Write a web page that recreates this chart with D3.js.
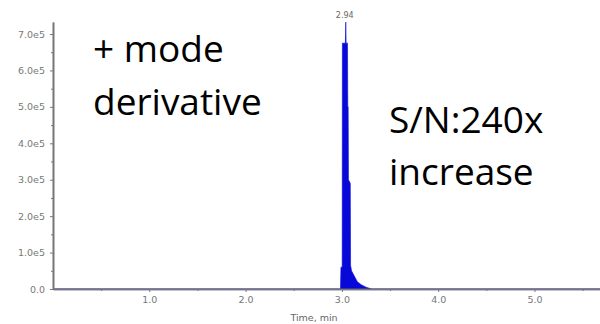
<!DOCTYPE html>
<html lang="en">
<head>
    <meta charset="UTF-8">
    <title>XIC + mode derivative</title>
    <style>
        body { margin: 0; background: #fff; }
        svg { display: block; }
        .axis path, .axis line { stroke: #777; }
        .axis path { stroke-width: 1.6px; }
        .axis text { font-family: "DejaVu Sans", Verdana, sans-serif; font-size: 9.5px; fill: #777; }
        .note { font-family: "Open Sans", sans-serif; font-size: 37px; fill: #000; }
    </style>
</head>
<body>
    <script src="https://cdnjs.cloudflare.com/ajax/libs/d3/7.8.5/d3.min.js"></script>
    <script>
        // chromatogram (time in min, intensity in counts)
        var times     = [0, 2.985, 2.990, 3.003, 3.005, 3.036, 3.040, 3.044, 3.058, 3.061, 3.065, 3.068, 3.087, 3.090, 3.100, 3.130, 3.160, 3.200, 3.250, 3.310, 5.68];
        var intensity = [0, 0, 0.6e5, 0.6e5, 6.75e5, 6.75e5, 7.33e5, 6.75e5, 6.75e5, 5.0e5, 5.0e5, 3.0e5, 2.9e5, 0.65e5, 0.5e5, 0.35e5, 0.2e5, 0.12e5, 0.05e5, 0, 0];

        var peakLabel = "2.94";

        var yTicks = [0, 1e5, 2e5, 3e5, 4e5, 5e5, 6e5, 7e5];
        var yTickLabels = ["0.0", "1.0e5", "2.0e5", "3.0e5", "4.0e5", "5.0e5", "6.0e5", "7.0e5"];
        var yMinor = [0.5e5, 1.5e5, 2.5e5, 3.5e5, 4.5e5, 5.5e5, 6.5e5];
        var xTicks = [1, 2, 3, 4, 5];
        var xTickLabels = ["1.0", "2.0", "3.0", "4.0", "5.0"];
        var xMinor = [0.5, 1.5, 2.5, 3.5, 4.5, 5.5];

        var notesLeft = ["+ mode", "derivative"];
        var notesRight = ["S/N:240x", "increase"];

        var width = 600,
            height = 324;

        var data = times.map(function(t, i) { return {t: t, v: intensity[i]}; });

        var x = d3.scaleLinear().domain([0, 5.68]).range([53, 600]);
        var y = d3.scaleLinear().domain([0, d3.max(intensity)]).range([289, 22]);

        var svg = d3.select("body").append("svg")
            .attr("width", width)
            .attr("height", height);

        // peak
        svg.append("path")
            .datum(data)
            .attr("fill", "#0808d8")
            .attr("stroke", "#0808d8")
            .attr("stroke-width", 0.6)
            .attr("d", d3.area()
                .x(function(d) { return x(d.t); })
                .y0(y(0))
                .y1(function(d) { return y(d.v); }));

        var peak = data[d3.maxIndex(intensity)];
        svg.append("text")
            .attr("x", x(peak.t) - 1)
            .attr("y", y(peak.v) - 4)
            .attr("text-anchor", "middle")
            .style("font-family", "DejaVu Sans, Verdana, sans-serif")
            .style("font-size", "8px")
            .attr("fill", "#666")
            .text(peakLabel);

        // y axis
        svg.append("g")
            .attr("class", "axis")
            .attr("transform", "translate(" + x(0) + ",0)")
            .call(d3.axisLeft(y).tickValues(yMinor).tickFormat("").tickSize(2).tickSizeOuter(0));
        svg.append("g")
            .attr("class", "axis")
            .attr("transform", "translate(" + x(0) + ",0)")
            .call(d3.axisLeft(y).tickValues(yTicks)
                .tickFormat(function(d, i) { return yTickLabels[i]; })
                .tickSize(3).tickPadding(5).tickSizeOuter(0));

        // x axis
        svg.append("g")
            .attr("class", "axis")
            .attr("transform", "translate(0," + y(0) + ")")
            .call(d3.axisBottom(x).tickValues(xMinor).tickFormat("").tickSize(2).tickSizeOuter(0));
        svg.append("g")
            .attr("class", "axis")
            .attr("transform", "translate(0," + y(0) + ")")
            .call(d3.axisBottom(x).tickValues(xTicks)
                .tickFormat(function(d, i) { return xTickLabels[i]; })
                .tickSize(3).tickPadding(4).tickSizeOuter(0));

        svg.append("text")
            .attr("x", 314)
            .attr("y", 321)
            .attr("text-anchor", "middle")
            .style("font-family", "DejaVu Sans, Verdana, sans-serif")
            .style("font-size", "9.5px")
            .attr("fill", "#666")
            .text("Time, min");

        // annotations
        svg.selectAll(".note.left")
            .data(notesLeft)
          .enter().append("text")
            .attr("class", "note left")
            .attr("x", 93)
            .attr("y", function(d, i) { return 62 + i * 53; })
            .text(function(d) { return d; });

        svg.selectAll(".note.right")
            .data(notesRight)
          .enter().append("text")
            .attr("class", "note right")
            .attr("x", 389)
            .attr("y", function(d, i) { return 133 + i * 52; })
            .text(function(d) { return d; });
    </script>
</body>
</html>
